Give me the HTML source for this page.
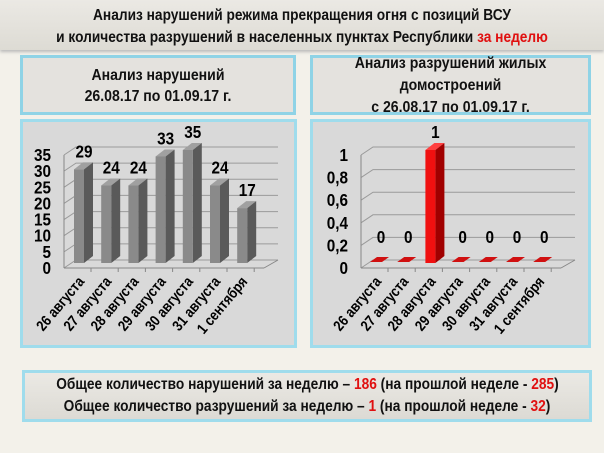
<!DOCTYPE html>
<html><head><meta charset="utf-8"><style>
body{margin:0;width:604px;height:453px;overflow:hidden;background:#f3f1ea;font-family:"Liberation Sans",sans-serif;position:relative}
.b{position:absolute;box-sizing:border-box}
.t{font-weight:bold;color:#111;text-align:center;transform:scaleX(.88);white-space:nowrap}
.r{color:#e01010}
</style></head><body>
<div class="b" style="left:0;top:0;width:604px;height:50px;background:linear-gradient(#ebe9e4,#dddbd4);box-shadow:0 2px 3px #bbb"></div>
<div class="b t" style="left:0;top:5px;width:604px;font-size:15.6px;line-height:22px">Анализ нарушений режима прекращения огня с позиций ВСУ<br>и количества разрушений в населенных пунктах Республики <span class="r">за неделю</span></div>
<div class="b" style="left:20px;top:55px;width:276px;height:60px;background:#e4e2de;border:3px solid #8fd3e6"></div>
<div class="b t" style="left:20px;top:65px;width:276px;font-size:16px;line-height:21px">Анализ нарушений<br>26.08.17 по 01.09.17 г.</div>
<div class="b" style="left:310px;top:55px;width:281px;height:60px;background:#e4e2de;border:3px solid #8fd3e6"></div>
<div class="b t" style="left:310px;top:53px;width:281px;font-size:16px;line-height:22px">Анализ разрушений жилых<br>домостроений<br>с 26.08.17 по 01.09.17 г.</div>
<div class="b" style="left:20px;top:119px;width:277px;height:229px;background:#d9d9d9;border:3px solid #9fdcec"></div>
<div class="b" style="left:310px;top:119px;width:281px;height:229px;background:#d9d9d9;border:3px solid #9fdcec"></div>
<div class="b" style="left:22px;top:370px;width:570px;height:52px;background:linear-gradient(#ebe9e4,#dcdad4);border:3px solid #9fdcec"></div>
<div class="b t" style="left:22px;top:374px;width:570px;font-size:15.6px;line-height:22px">Общее количество нарушений за неделю – <span class="r">186</span> (на прошлой неделе - <span class="r">285</span>)<br>Общее количество разрушений за неделю – <span class="r">1</span> (на прошлой неделе - <span class="r">32</span>)</div>
<svg class="b" style="left:0;top:0" width="604" height="453" id="s" font-family="Liberation Sans" font-weight="bold"></svg>
<script>
var s=document.getElementById('s'),h='';
var days=['26 августа','27 августа','28 августа','29 августа','30 августа','31 августа','1 сентября'];
function tx(x,y,sz,anc,str,rot){return '<g transform="translate('+x+','+y+')'+(rot?' rotate('+rot+')':'')+' scale(.85,1)"><text font-size="'+sz+'" text-anchor="'+anc+'">'+str+'</text></g>';}
function chart(x0,vals,max,step,lab,isRed){
 var sc=113/max, fy=268;
 for(var v=0;v<=max+1e-9;v+=step){var y=fy-v*sc;
  h+='<polyline points="'+x0+','+y+' '+(x0+12)+','+(y-8)+' '+(x0+214)+','+(y-8)+'" fill="none" stroke="#9a9a9a" stroke-width="1"/>';
  h+=tx(x0-13,y+6,18,'end',lab(v));}
 h+='<line x1="'+x0+'" y1="'+fy+'" x2="'+(x0+200)+'" y2="'+fy+'" stroke="#888"/><line x1="'+(x0+200)+'" y1="'+fy+'" x2="'+(x0+214)+'" y2="'+(fy-8)+'" stroke="#888"/>';
 h+='<line x1="'+x0+'" y1="'+fy+'" x2="'+x0+'" y2="'+(fy-113)+'" stroke="#888"/>';
 for(var i=0;i<7;i++){var c=x0+16+i*27.2,v=vals[i],top=263-v*sc,bot=263;
  var f=isRed?'#f01010':'#8a8a8a',sd=isRed?'#a00000':'#5a5a5a',tp=isRed?'#ff4040':'#a0a0a0';
  if(v>0){
  h+='<polygon points="'+(c-6)+','+top+' '+(c+4)+','+top+' '+(c+13)+','+(top-7)+' '+(c+3)+','+(top-7)+'" fill="'+tp+'"/>';
  h+='<polygon points="'+(c+4)+','+top+' '+(c+13)+','+(top-7)+' '+(c+13)+','+(bot-7)+' '+(c+4)+','+bot+'" fill="'+sd+'"/>';
  h+='<rect x="'+(c-6)+'" y="'+top+'" width="10" height="'+(bot-top)+'" fill="'+f+'"/>';
  } else h+='<polygon points="'+(c-7)+','+(bot-1)+' '+(c+5)+','+(bot-1)+' '+(c+12)+','+(bot-6)+' '+(c)+','+(bot-6)+'" fill="#d01010"/>';
  var ly=v>0?top-12:243;
  h+=tx(c+4,ly,18,'middle',String(v));
  h+='<line x1="'+(x0+i*27.2+27)+'" y1="'+fy+'" x2="'+(x0+i*27.2+27)+'" y2="'+(fy+4)+'" stroke="#888"/>';
  h+=tx(c+5,fy+14,15,'end',days[i],-50);
 }
}
chart(64,[29,24,24,33,35,24,17],35,5,function(v){return Math.round(v)},false);
chart(361,[0,0,1,0,0,0,0],1,0.2,function(v){v=Math.round(v*10)/10;return String(v).replace('.',',')},true);
s.innerHTML=h;
</script>
</body></html>
